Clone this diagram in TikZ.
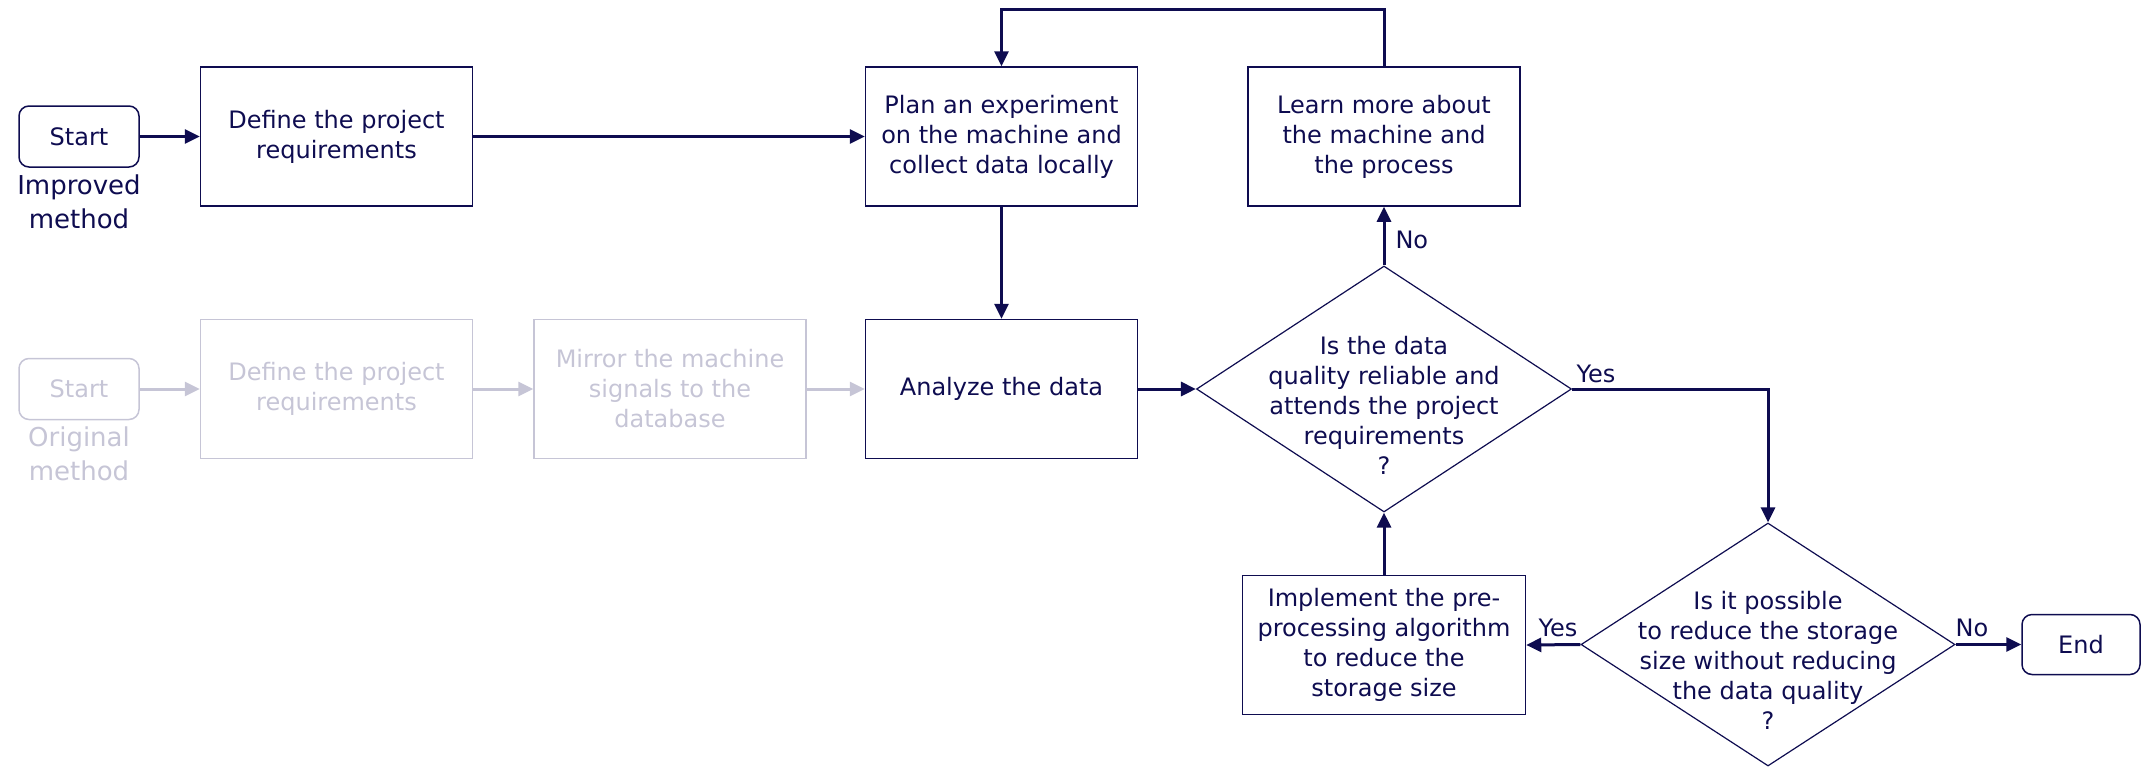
\documentclass[tikz,border=0pt]{standalone}
\usepackage{fontspec}
\setmainfont{DejaVu Sans}
\usetikzlibrary{arrows.meta,shapes.geometric,positioning}
\definecolor{navy}{HTML}{0E0C50}
\definecolor{ghost}{HTML}{C6C5D6}
\tikzset{
  x=0.5pt,y=-0.5pt,
  every node/.style={font=\fontsize{12pt}{15pt}\selectfont, text=navy, inner sep=0pt},
  procbox/.style={draw=navy, line width=0.75pt, minimum width=136pt, minimum height=69.5pt, align=center},
  termbox/.style={draw=navy, line width=0.75pt, rounded corners=5pt, minimum width=60pt, minimum height=30.5pt, align=center},
  decbox/.style={draw=navy, line width=0.6pt, diamond, inner sep=0pt},
  ghostbox/.style={draw=ghost, text=ghost},
  flow/.style={draw=navy, line width=1.5pt, -{Triangle[length=7.5pt,width=7pt]}},
  ghostflow/.style={draw=ghost, line width=1.5pt, -{Triangle[length=7.5pt,width=7pt]}},
  methodlabel/.style={font=\fontsize{13pt}{17pt}\selectfont, align=center, anchor=north},
  edgelabel/.style={font=\fontsize{12pt}{15pt}\selectfont}
}
\begin{document}
\begin{tikzpicture}
\useasboundingbox (0,0) rectangle (2141,766);
% improved method row
\node[termbox] (start) at (79,136.5) {Start};
\node[methodlabel] (improved) at (79,174) {Improved\\method};
\node[procbox] (define) at (336.5,136.5) {Define the project\\requirements};
\node[procbox] (plan) at (1001.5,136.5) {Plan an experiment\\on the machine and\\collect data locally};
\node[procbox] (learn) at (1384,136.5) {Learn more about\\the machine and\\the process};
% original method row
\node[termbox,ghostbox] (start2) at (79,389) {Start};
\node[methodlabel,text=ghost] (original) at (79,426) {Original\\method};
\node[procbox,ghostbox] (define2) at (336.5,389) {Define the project\\requirements};
\node[procbox,ghostbox] (mirror) at (670,389) {Mirror the machine\\signals to the\\database};
\node[procbox] (analyze) at (1001.5,389) {Analyze the data};
% decisions
\node[decbox, minimum width=187.5pt, minimum height=123pt] (d1) at (1384,389) {};
\node[align=center] (d1t) at ([yshift=-8pt]d1.center) {Is the data\\quality reliable and\\attends the project\\requirements\\?};
\node[decbox, minimum width=187pt, minimum height=121.5pt] (d2) at (1768,644.5) {};
\node[align=center] (d2t) at ([yshift=-8pt]d2.center) {Is it possible\\to reduce the storage\\size without reducing\\the data quality\\?};
\node[procbox, minimum width=141.5pt] (impl) at (1384,645) {Implement the pre-\\processing algorithm\\to reduce the\\storage size};
\node[termbox, minimum width=59pt, minimum height=30pt] (end) at (2081,644.5) {End};
\coordinate (loopR) at (1384,9.5);
\coordinate (loopL) at (1001.5,9.5);
\coordinate (yesC) at (1768,389);
% connectors
\draw[flow] (start) -- (define);
\draw[flow] (define) -- (plan);
\draw[flow] (plan) -- (analyze);
\draw[flow] (analyze) -- (d1.west);
\draw[flow] (d1.north) -- node[edgelabel, anchor=west, xshift=5pt, yshift=-2pt] (lno) {No} (learn.south);
\draw[flow] (learn.north) -- (loopR) -- (loopL) -- (plan.north);
\draw[flow] (d1.east) -- (yesC) -- (d2.north);
\node[edgelabel, anchor=south west] (lyes) at ([xshift=2pt,yshift=3pt]d1.east) {Yes};
\draw[flow] (d2.west) -- (impl.east);
\node[edgelabel] (lyes2) at (1558,628) {Yes};
\draw[flow] (impl.north) -- (d1.south);
\draw[flow] (d2.east) -- (end.west);
\node[edgelabel] (lno2) at (1972,628) {No};
\draw[ghostflow] (start2) -- (define2);
\draw[ghostflow] (define2) -- (mirror);
\draw[ghostflow] (mirror) -- (analyze);
\end{tikzpicture}
\end{document}
